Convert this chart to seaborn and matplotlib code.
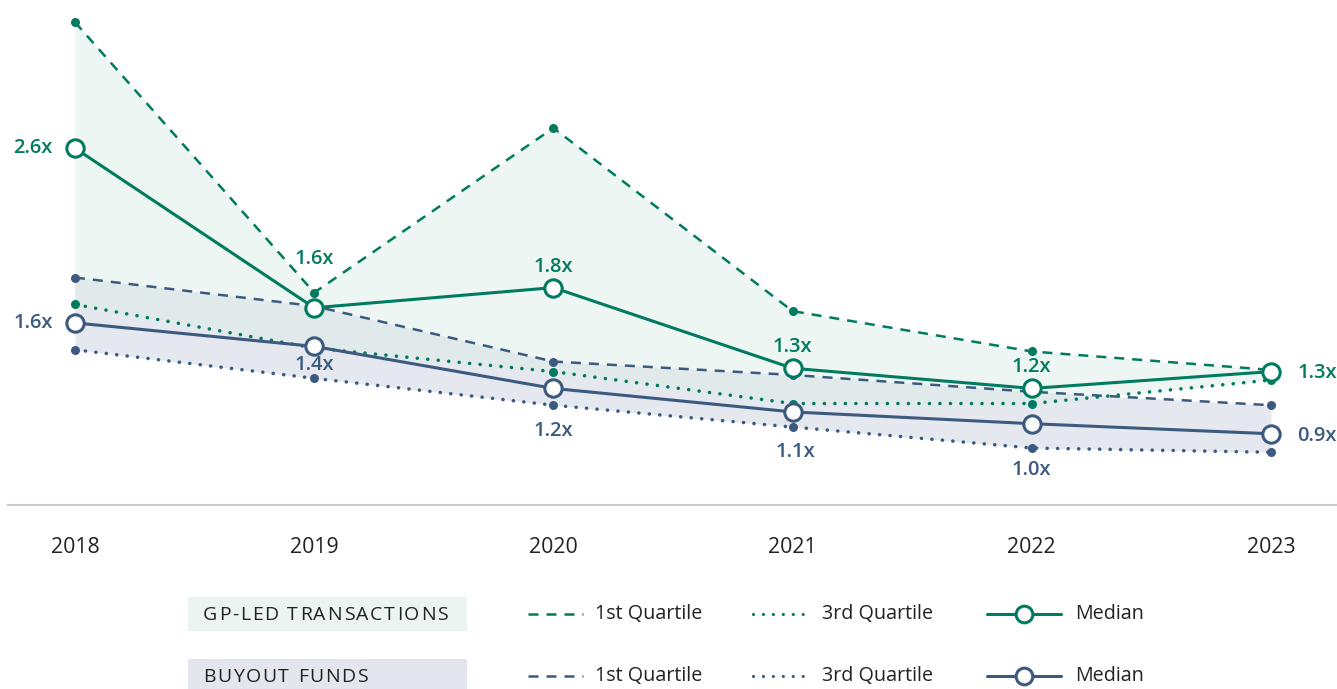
import numpy as np
import pandas as pd
import seaborn as sns
import matplotlib.pyplot as plt

# chart values
years = [2018, 2019, 2020, 2021, 2022, 2023]
year_labels = ['2018', '2019', '2020', '2021', '2022', '2023']

# GP-led transactions
gp_q1 = [3.35, 1.74, 2.72, 1.63, 1.39, 1.28]
gp_median = [2.60, 1.65, 1.77, 1.29, 1.17, 1.27]
gp_q3 = [1.67, 1.41, 1.27, 1.08, 1.08, 1.22]
gp_labels = ['2.6x', '1.6x', '1.8x', '1.3x', '1.2x', '1.3x']

# buyout funds
bo_q1 = [1.83, 1.66, 1.33, 1.25, 1.15, 1.07]
bo_median = [1.56, 1.42, 1.17, 1.03, 0.96, 0.90]
bo_q3 = [1.40, 1.23, 1.07, 0.94, 0.815, 0.79]
bo_labels = ['1.6x', '1.4x', '1.2x', '1.1x', '1.0x', '0.9x']

GREEN = '#007B5F'
NAVY = '#3C5A7F'
TEXT = '#222222'
GREEN_FILL = '#EEF6F4'
NAVY_FILL = '#E5E8EE'
BOTH_FILL = '#E1EAEB'

sns.set_style('white')
plt.rcParams['font.family'] = ['Open Sans', 'DejaVu Sans']

df = pd.DataFrame({'year': years,
                   'gp_q1': gp_q1, 'gp_median': gp_median, 'gp_q3': gp_q3,
                   'bo_q1': bo_q1, 'bo_median': bo_median, 'bo_q3': bo_q3})

fig = plt.figure(figsize=(13.37, 6.89), dpi=100)
ax = fig.add_axes([8 / 1337, 1 - 505 / 689, 1329 / 1337, 505 / 689])

# shaded ranges between the quartiles (overlap gets its own tint)
ax.fill_between(df['year'], df['gp_q1'], df['gp_q3'], color=GREEN_FILL, lw=0, zorder=1)
ax.fill_between(df['year'], df['bo_q1'], df['bo_q3'], color=NAVY_FILL, lw=0, zorder=1)
ax.fill_between(df['year'], df['bo_q1'], df['gp_q3'], where=df['bo_q1'] > df['gp_q3'],
                interpolate=True, color=BOTH_FILL, lw=0, zorder=1)

dashed = (0, (4, 3.2))
dotted = (0, (0.01, 2.9))

# quartile lines
for col, c in [('bo_q1', NAVY), ('gp_q1', GREEN)]:
    sns.lineplot(data=df, x='year', y=col, ax=ax, color=c, lw=1.8, linestyle=dashed,
                 marker='o', markersize=6.5, markeredgewidth=0, errorbar=None, zorder=3)
for col, c in [('bo_q3', NAVY), ('gp_q3', GREEN)]:
    sns.lineplot(data=df, x='year', y=col, ax=ax, color=c, lw=2.6, linestyle=dotted,
                 dash_capstyle='round', marker='o', markersize=6.5, markeredgewidth=0,
                 errorbar=None, zorder=3)

# medians
for col, c in [('bo_median', NAVY), ('gp_median', GREEN)]:
    sns.lineplot(data=df, x='year', y=col, ax=ax, color=c, lw=2.2, marker='o',
                 markersize=12.5, markerfacecolor='white', markeredgecolor=c,
                 markeredgewidth=2.2, errorbar=None, zorder=4)

# value labels, offsets in pixels
gp_off = [(-22, 0, 'right'), (0, 49, 'center'), (0, 21, 'center'),
          (0, 21, 'center'), (0, 21, 'center'), (26, -1, 'left')]
bo_off = [(-22, 0, 'right'), (0, -19, 'center'), (0, -43, 'center'),
          (3, -40, 'center'), (0, -46, 'center'), (26, -2, 'left')]
for i in range(len(years)):
    dx, dy, ha = gp_off[i]
    ax.annotate(gp_labels[i], (years[i], gp_median[i]), xytext=(dx, dy),
                textcoords='offset pixels', ha=ha, va='center', color=GREEN,
                fontsize=14.5, fontweight='semibold', zorder=6)
    dx, dy, ha = bo_off[i]
    ax.annotate(bo_labels[i], (years[i], bo_median[i]), xytext=(dx, dy),
                textcoords='offset pixels', ha=ha, va='center', color=NAVY,
                fontsize=14.5, fontweight='semibold', zorder=6)

ax.set_xlim(2017.72, 2023.276)
ax.set_ylim(0.476, 3.482)
ax.set_xticks(years)
ax.set_xticklabels(year_labels, fontsize=15.3, color=TEXT)
ax.set_yticks([])
ax.set_xlabel('')
ax.set_ylabel('')
ax.tick_params(axis='x', length=0, pad=23)
for s in ['top', 'left', 'right']:
    ax.spines[s].set_visible(False)
ax.spines['bottom'].set_color('#CCCCCC')
ax.spines['bottom'].set_linewidth(1.5)
ax.patch.set_alpha(0)

# custom legend drawn in pixel coordinates
lg = fig.add_axes([0, 0, 1, 1], zorder=-1)
lg.set_xlim(0, 1337)
lg.set_ylim(689, 0)
lg.axis('off')
renderer = fig.canvas.get_renderer()


def text_width(s, **kw):
    t = lg.text(0, 0, s, **kw)
    w = t.get_window_extent(renderer=renderer).width
    t.remove()
    return w


def spaced_text(x, y, s, spacing, **kw):
    # letter spaced caption: each char placed after the previous one
    bar = text_width('|', **kw)
    for i, ch in enumerate(s):
        left = text_width(s[:i] + '|', **kw) - bar if i > 0 else 0
        lg.text(x + left + i * spacing, y, ch, va='center', ha='left', **kw)


rows = [('GP-LED TRANSACTIONS', GREEN, '#EBF4F1', 614),
        ('BUYOUT FUNDS', NAVY, '#E3E6EC', 676)]
for name, c, bg, y in rows:
    lg.add_patch(plt.Rectangle((188, y - 17), 279, 34, color=bg, lw=0))
    spaced_text(203, y + 1, name, 1.7, fontsize=14, color=TEXT)
    lg.plot([528, 583], [y, y], color=c, lw=1.8, linestyle=(0, (4, 3.2)))
    lg.text(595, y, '1st Quartile', fontsize=14.2, color=TEXT, va='center')
    lg.plot([753, 803], [y, y], color=c, lw=2.3, linestyle=(0, (0.01, 3.1)),
            dash_capstyle='round')
    lg.text(822, y, '3rd Quartile', fontsize=14.2, color=TEXT, va='center')
    lg.plot([987, 1061], [y, y], color=c, lw=2.2)
    lg.plot([1024], [y], marker='o', markersize=12, markerfacecolor='white',
            markeredgecolor=c, markeredgewidth=2.2)
    lg.text(1075, y, 'Median', fontsize=14.2, color=TEXT, va='center')

fig.savefig('out.png', dpi=100)
